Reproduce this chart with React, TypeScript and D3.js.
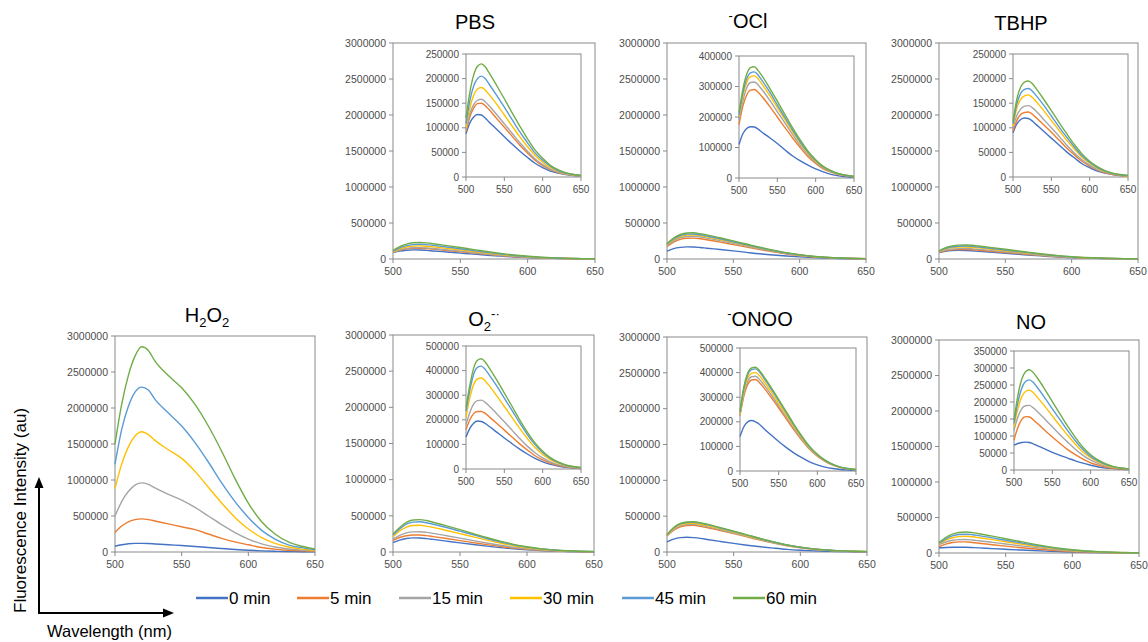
import React from 'react';
import * as d3 from 'd3';

// emission wavelengths (nm) at which the spectra were read
const wavelengths = [500, 505, 510, 515, 520, 525, 530, 540, 550, 560, 570, 580, 590, 600, 610, 620, 630, 640, 650];
const timeLabels = ['0 min', '5 min', '15 min', '30 min', '45 min', '60 min'];
const timeColors = ['#4472C4', '#ED7D31', '#A5A5A5', '#FFC000', '#5B9BD5', '#70AD47'];
const wavelengthTicks = [500, 550, 600, 650];
const mainTicks = [0, 500000, 1000000, 1500000, 2000000, 2500000, 3000000];

// intensities, in thousands of au; one row per incubation time
const UNIT = 1000;

const pbsSpectra = [
  [88, 110, 122, 127, 126, 120, 112, 97, 82, 67, 53, 40, 28, 19, 12, 8, 5, 3, 2],
  [92, 122, 140, 149, 150, 145, 137, 119, 101, 83, 65, 49, 34, 23, 15, 9, 6, 4, 2],
  [95, 128, 147, 156, 158, 153, 145, 127, 108, 89, 70, 53, 37, 25, 16, 10, 6, 4, 2],
  [100, 140, 166, 179, 182, 177, 168, 148, 126, 104, 82, 62, 44, 30, 19, 12, 7, 4, 3],
  [108, 155, 185, 200, 205, 200, 189, 166, 142, 117, 92, 70, 49, 34, 22, 13, 8, 5, 3],
  [120, 172, 207, 225, 230, 224, 212, 186, 159, 131, 104, 78, 55, 38, 24, 15, 9, 5, 3],
];

const oclSpectra = [
  [110, 145, 162, 168, 167, 160, 150, 132, 113, 92, 72, 56, 42, 30, 20, 12, 7, 4, 2],
  [175, 235, 272, 288, 290, 281, 267, 235, 200, 165, 131, 99, 70, 48, 30, 19, 11, 7, 4],
  [190, 252, 295, 313, 315, 305, 290, 255, 217, 180, 142, 107, 76, 52, 33, 21, 12, 7, 4],
  [200, 268, 313, 332, 335, 325, 308, 271, 231, 191, 151, 114, 81, 55, 35, 22, 13, 8, 5],
  [205, 278, 325, 345, 348, 337, 320, 282, 240, 198, 157, 118, 84, 57, 36, 23, 14, 8, 5],
  [215, 290, 340, 362, 365, 352, 335, 295, 252, 208, 164, 124, 88, 60, 38, 24, 14, 9, 5],
];

const tbhpSpectra = [
  [90, 108, 117, 120, 119, 114, 107, 93, 79, 65, 51, 39, 27, 19, 12, 8, 5, 3, 2],
  [93, 115, 127, 131, 132, 128, 121, 106, 91, 75, 59, 45, 32, 22, 14, 9, 5, 3, 2],
  [100, 125, 138, 144, 145, 141, 134, 117, 100, 83, 65, 49, 35, 24, 15, 10, 6, 4, 2],
  [104, 140, 158, 165, 167, 162, 154, 135, 115, 95, 75, 57, 40, 28, 18, 11, 7, 4, 2],
  [108, 148, 170, 178, 180, 175, 166, 146, 124, 102, 81, 61, 43, 30, 19, 12, 7, 4, 3],
  [112, 158, 183, 193, 195, 190, 180, 158, 135, 111, 88, 66, 47, 32, 21, 13, 8, 5, 3],
];

const h2o2Spectra = [
  [80, 100, 115, 120, 120, 118, 112, 100, 90, 77, 62, 48, 35, 25, 16, 10, 6, 4, 2],
  [270, 360, 420, 450, 460, 450, 430, 390, 350, 310, 250, 190, 140, 100, 62, 40, 24, 15, 10],
  [500, 700, 840, 930, 960, 940, 890, 800, 720, 620, 500, 380, 270, 180, 112, 70, 42, 26, 16],
  [880, 1220, 1460, 1610, 1670, 1630, 1550, 1420, 1300, 1120, 900, 680, 480, 320, 200, 120, 70, 40, 22],
  [1220, 1700, 2020, 2220, 2290, 2250, 2120, 1930, 1750, 1520, 1250, 960, 700, 480, 300, 180, 100, 60, 32],
  [1500, 2050, 2450, 2720, 2850, 2800, 2650, 2450, 2280, 2050, 1750, 1400, 1020, 680, 420, 250, 140, 80, 42],
];

const superoxideSpectra = [
  [130, 165, 186, 195, 193, 185, 174, 150, 126, 103, 81, 61, 43, 29, 19, 12, 7, 4, 2],
  [160, 200, 225, 234, 234, 226, 213, 186, 158, 130, 102, 77, 54, 37, 24, 15, 9, 5, 3],
  [180, 230, 265, 278, 280, 271, 257, 225, 192, 158, 124, 93, 66, 45, 29, 18, 11, 6, 4],
  [210, 290, 343, 366, 370, 358, 340, 298, 254, 210, 165, 124, 87, 59, 38, 24, 14, 8, 5],
  [235, 320, 385, 413, 418, 405, 384, 338, 288, 238, 187, 140, 99, 67, 43, 27, 16, 9, 5],
  [250, 340, 410, 442, 448, 435, 412, 362, 309, 255, 200, 150, 106, 72, 46, 29, 17, 10, 6],
];

const peroxynitriteSpectra = [
  [140, 180, 200, 205, 200, 190, 175, 147, 120, 95, 73, 54, 37, 25, 16, 10, 6, 4, 2],
  [225, 305, 352, 370, 372, 360, 342, 300, 256, 211, 166, 125, 88, 60, 39, 24, 14, 8, 5],
  [228, 314, 364, 383, 385, 373, 354, 311, 265, 219, 172, 129, 91, 62, 40, 25, 15, 9, 5],
  [232, 324, 378, 397, 400, 388, 368, 323, 275, 227, 179, 134, 95, 65, 42, 26, 15, 9, 5],
  [238, 335, 391, 412, 415, 403, 382, 335, 286, 236, 185, 139, 98, 67, 43, 27, 16, 9, 5],
  [245, 342, 398, 419, 422, 409, 388, 341, 291, 240, 189, 142, 100, 68, 44, 27, 16, 10, 6],
];

const noSpectra = [
  [73, 78, 81, 82, 81, 77, 72, 62, 52, 43, 35, 27, 20, 14, 9, 6, 4, 2, 1],
  [88, 125, 148, 157, 156, 148, 138, 117, 97, 78, 60, 45, 32, 21, 14, 8, 5, 3, 2],
  [117, 155, 180, 189, 190, 183, 173, 150, 127, 104, 82, 61, 43, 29, 19, 11, 7, 4, 2],
  [127, 180, 215, 231, 235, 228, 215, 188, 159, 130, 102, 76, 53, 36, 23, 14, 8, 5, 3],
  [137, 198, 240, 260, 265, 258, 244, 213, 180, 148, 116, 86, 60, 40, 26, 16, 9, 5, 3],
  [147, 218, 266, 289, 295, 287, 272, 238, 201, 165, 129, 96, 67, 45, 29, 18, 10, 6, 3],
];

const AXIS = '#8a8a8a';
const LABEL = '#4d4d4d';
const FONT = '"Liberation Sans", Arial, sans-serif';

const panels = [
  { title: 'PBS', data: pbsSpectra, main: { l: 393, r: 595, t: 43, b: 259 }, inset: { l: 466, r: 581, t: 54, b: 177 }, insetMax: 250000, insetStep: 50000, tx: 475, ty: 29 },
  { title: 'OCl', data: oclSpectra, main: { l: 667, r: 866, t: 43, b: 259 }, inset: { l: 739, r: 854, t: 56, b: 178 }, insetMax: 400000, insetStep: 100000, tx: 748, ty: 28 },
  { title: 'TBHP', data: tbhpSpectra, main: { l: 939, r: 1138, t: 43, b: 259 }, inset: { l: 1013, r: 1128, t: 54, b: 177 }, insetMax: 250000, insetStep: 50000, tx: 1021, ty: 30 },
  { title: 'H2O2', data: h2o2Spectra, main: { l: 115, r: 315, t: 336, b: 552 }, inset: null, insetMax: 0, insetStep: 0, tx: 207, ty: 322 },
  { title: 'O2', data: superoxideSpectra, main: { l: 393, r: 594, t: 335, b: 552 }, inset: { l: 466, r: 581, t: 346, b: 469 }, insetMax: 500000, insetStep: 100000, tx: 484, ty: 326 },
  { title: 'ONOO', data: peroxynitriteSpectra, main: { l: 667, r: 867, t: 337, b: 552 }, inset: { l: 740, r: 856, t: 348, b: 471 }, insetMax: 500000, insetStep: 100000, tx: 760, ty: 326 },
  { title: 'NO', data: noSpectra, main: { l: 939, r: 1139, t: 340, b: 553 }, inset: { l: 1014, r: 1129, t: 351, b: 470 }, insetMax: 350000, insetStep: 50000, tx: 1031, ty: 329 },
];

const legendX = [196, 297, 399, 510, 622, 733];

function Title({ name, x, y }) {
  const p = { x, y, textAnchor: 'middle' as const, fontSize: 20, fill: '#000' };
  if (name === 'OCl') return <text {...p}><tspan fontSize={13} dy={-8}>-</tspan><tspan dy={8}>OCl</tspan></text>;
  if (name === 'ONOO') return <text {...p}><tspan fontSize={13} dy={-8}>-</tspan><tspan dy={8}>ONOO</tspan></text>;
  if (name === 'H2O2') return (
    <text {...p}>H<tspan fontSize={13} dy={5}>2</tspan><tspan dy={-5}>O</tspan><tspan fontSize={13} dy={5}>2</tspan></text>
  );
  if (name === 'O2') return (
    <text {...p}>O<tspan fontSize={13} dy={5}>2</tspan><tspan fontSize={13} dy={-13}>-·</tspan></text>
  );
  return <text {...p}>{name}</text>;
}

function Plot({ box, yMax, yTicks, fs, data }) {
  const x = d3.scaleLinear().domain([500, 650]).range([box.l, box.r]);
  const y = d3.scaleLinear().domain([0, yMax]).range([box.b, box.t]);
  const line = d3.line<number>()
    .x((_, i) => x(wavelengths[i]))
    .y(v => y(v * UNIT))
    .curve(d3.curveMonotoneX);

  return (
    <g>
      <rect x={box.l} y={box.t} width={box.r - box.l} height={box.b - box.t} fill="#fff" stroke={AXIS} strokeWidth={1} />
      {data.map((s, i) => (
        <path key={i} d={line(s) || ''} fill="none" stroke={timeColors[i]} strokeWidth={1.4} strokeLinejoin="round" />
      ))}
      {yTicks.map(t => (
        <g key={t}>
          <line x1={box.l - 4} x2={box.l} y1={y(t)} y2={y(t)} stroke={AXIS} />
          <text x={box.l - 7} y={y(t)} dy="0.35em" textAnchor="end" fontSize={fs} fill={LABEL}>{t}</text>
        </g>
      ))}
      {wavelengthTicks.map(t => (
        <g key={t}>
          <line x1={x(t)} x2={x(t)} y1={box.b} y2={box.b + 4} stroke={AXIS} />
          <text x={x(t)} y={box.b + 15.5} textAnchor="middle" fontSize={fs} fill={LABEL}>{t}</text>
        </g>
      ))}
    </g>
  );
}

export default function App() {
  return (
    <div style={{ position: 'absolute', left: 0, top: 0 }}>
      <svg width={1148} height={642} style={{ display: 'block', fontFamily: FONT }}>
        <rect width={1148} height={642} fill="#fff" />

        {panels.map(p => (
          <g key={p.title}>
            <Title name={p.title} x={p.tx} y={p.ty} />
            <Plot box={p.main} yMax={3000000} yTicks={mainTicks} fs={10.5} data={p.data} />
            {p.inset && (
              <Plot box={p.inset} yMax={p.insetMax} yTicks={d3.range(0, p.insetMax + 1, p.insetStep)} fs={10} data={p.data} />
            )}
          </g>
        ))}

        {/* axis arrows */}
        <line x1={39} y1={613} x2={39} y2={486} stroke="#000" strokeWidth={2} />
        <polygon points="39,477 34.5,488 43.5,488" fill="#000" />
        <line x1={38} y1={613} x2={165} y2={613} stroke="#000" strokeWidth={2} />
        <polygon points="174,613 163,608.5 163,617.5" fill="#000" />
        <text transform="translate(26,613) rotate(-90)" fontSize={17} fill="#000">Fluorescence Intensity (au)</text>
        <text x={47} y={637} fontSize={16.5} fill="#000">Wavelength (nm)</text>

        {/* legend */}
        {timeLabels.map((t, i) => (
          <g key={t}>
            <line x1={legendX[i]} x2={legendX[i] + 32} y1={598} y2={598} stroke={timeColors[i]} strokeWidth={2.5} />
            <text x={legendX[i] + 33} y={598} dy="0.35em" fontSize={17} fill="#000">{t}</text>
          </g>
        ))}
      </svg>
    </div>
  );
}
